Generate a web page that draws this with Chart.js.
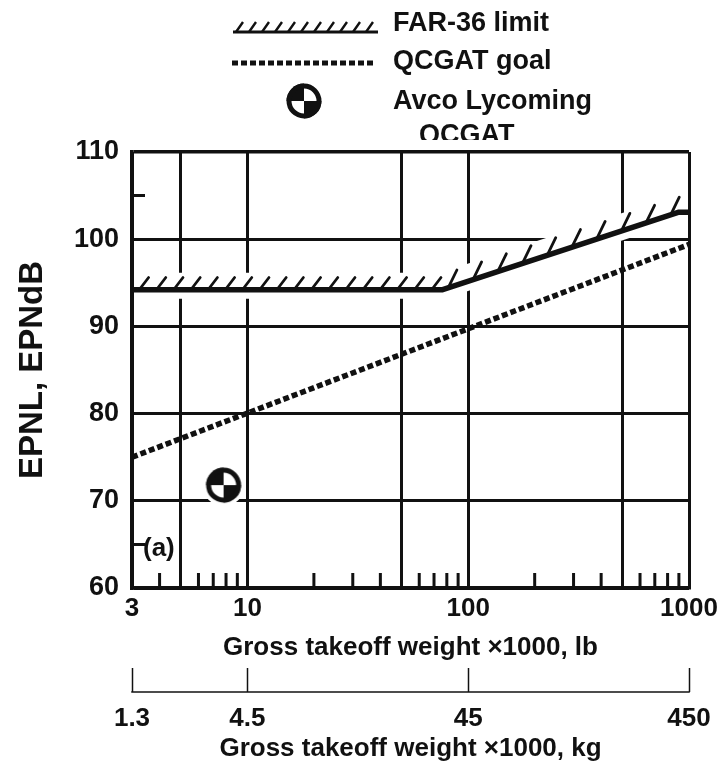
<!DOCTYPE html>
<html><head><meta charset="utf-8">
<script src="https://cdn.jsdelivr.net/npm/chart.js@4"></script>
<style>html,body{margin:0;padding:0;background:#fff}canvas{display:block}</style>
</head><body>
<canvas id="c" width="723" height="770"></canvas>
<script>
// ---- data ----
const farX = [3, 76, 900, 1000];
const farY = [94.2, 94.2, 103.1, 103.1];
const goalX = [3, 1000];
const goalY = [75.0, 99.4];
const avcoX = [7.8];
const avcoY = [71.8];
const seriesNames = ['FAR-36 limit', 'QCGAT goal', 'Avco Lycoming', 'QCGAT'];
const lbGridValues = [3, 5, 10, 50, 100, 500, 1000];
const lbTickLabels = [3, 10, 100, 1000];
const kgTickValues = [3, 10, 100, 1000];
const kgTickLabels = ['1.3', '4.5', '45', '450'];
const minorTicksX = [4, 6, 7, 8, 9, 20, 30, 40, 60, 70, 80, 90, 200, 300, 400, 600, 700, 800, 900];
const minorTicksY = [65, 105];
const yMin = 60, yMax = 110, yStep = 10;
const panelLabel = '(a)';
const xTitleLb = 'Gross takeoff weight \u00d71000, lb';
const xTitleKg = 'Gross takeoff weight \u00d71000, kg';
const yTitle = 'EPNL, EPNdB';

const FONT = '"Liberation Sans", Arial, Helvetica, sans-serif';
const INK = '#111';

function drawAvco(ctx, cx, cy, r) {
  ctx.save();
  ctx.beginPath(); ctx.arc(cx, cy, r, 0, Math.PI * 2); ctx.fillStyle = '#fff'; ctx.fill();
  ctx.fillStyle = INK;
  ctx.beginPath(); ctx.moveTo(cx, cy); ctx.arc(cx, cy, r, Math.PI, 1.5 * Math.PI); ctx.closePath(); ctx.fill();
  ctx.beginPath(); ctx.moveTo(cx, cy); ctx.arc(cx, cy, r, 0, 0.5 * Math.PI); ctx.closePath(); ctx.fill();
  ctx.beginPath(); ctx.arc(cx, cy, r - 2.5, 0, Math.PI * 2); ctx.lineWidth = 5; ctx.strokeStyle = INK; ctx.stroke();
  ctx.restore();
}
const avcoImg = document.createElement('canvas');
avcoImg.width = 40; avcoImg.height = 40;
drawAvco(avcoImg.getContext('2d'), 20, 20, 17.5);

function hatchPath(ctx, pts, opts) {
  let carry = opts.start;
  ctx.beginPath();
  for (let i = 0; i < pts.length - 1; i++) {
    const p0 = pts[i], p1 = pts[i + 1];
    const dx = p1.x - p0.x, dy = p1.y - p0.y;
    const L = Math.hypot(dx, dy);
    if (L < 0.5) continue;
    const tx = dx / L, ty = dy / L;
    const nx = ty, ny = -tx;
    const flat = Math.abs(ty) < 0.05;
    const ang = (flat ? opts.angle : opts.slopeAngle) * Math.PI / 180;
    const len = flat ? opts.len : opts.slopeLen;
    const hx = tx * Math.cos(ang) + nx * Math.sin(ang);
    const hy = ty * Math.cos(ang) + ny * Math.sin(ang);
    const sp = flat ? opts.flatSpacing : opts.slopeSpacing;
    let s = carry;
    while (s < L) {
      const px = p0.x + tx * s, py = p0.y + ty * s;
      ctx.moveTo(px + nx * opts.offset, py + ny * opts.offset);
      ctx.lineTo(px + hx * len, py + hy * len);
      s += sp;
    }
    carry = s - L;
  }
  ctx.lineWidth = opts.width; ctx.strokeStyle = INK; ctx.lineCap = 'round';
  ctx.stroke();
}

const decorPlugin = {
  id: 'decor',
  beforeDatasetsDraw(chart) {
    const ctx = chart.ctx, a = chart.chartArea;
    const xs = chart.scales.x, ys = chart.scales.y;
    // white halo behind the FAR-36 line and the engine point (as in the reference)
    ctx.save();
    ctx.beginPath(); ctx.rect(a.left + 3, a.top + 3, a.right - a.left - 6, a.bottom - a.top - 6); ctx.clip();
    const far = chart.getDatasetMeta(0).data;
    ctx.beginPath();
    far.forEach((p, i) => { i ? ctx.lineTo(p.x, p.y - 4) : ctx.moveTo(p.x, p.y - 4); });
    ctx.strokeStyle = '#fff'; ctx.lineWidth = 26; ctx.lineJoin = 'round'; ctx.stroke();
    const av = chart.getDatasetMeta(2).data;
    av.forEach(p => { ctx.beginPath(); ctx.arc(p.x, p.y, 21, 0, Math.PI * 2); ctx.fillStyle = '#fff'; ctx.fill(); });
    ctx.restore();
    // minor ticks
    ctx.save();
    ctx.strokeStyle = INK; ctx.lineWidth = 3;
    ctx.beginPath();
    minorTicksX.forEach(v => { const x = xs.getPixelForValue(v); ctx.moveTo(x, a.bottom); ctx.lineTo(x, a.bottom - 15); });
    minorTicksY.forEach(v => { const y = ys.getPixelForValue(v); ctx.moveTo(a.left, y); ctx.lineTo(a.left + 13, y); });
    ctx.stroke();
    ctx.restore();
  },
  afterDatasetsDraw(chart) {
    const ctx = chart.ctx, a = chart.chartArea;
    const far = chart.getDatasetMeta(0).data.map(p => ({x: p.x, y: p.y}));
    ctx.save();
    ctx.beginPath(); ctx.rect(a.left, a.top + 2, a.right - a.left - 3, a.bottom - a.top); ctx.clip();
    hatchPath(ctx, far, {angle: 55, len: 15, slopeAngle: 48, slopeLen: 19, offset: 1, width: 2.8,
                         flatSpacing: 17.2, slopeSpacing: 26, start: 8});
    ctx.restore();
  },
  afterDraw(chart) {
    const ctx = chart.ctx, a = chart.chartArea;
    const x2 = chart.scales.x2;
    ctx.save();
    // kg axis base line
    const ly = x2.top + 24;
    ctx.beginPath(); ctx.moveTo(x2.getPixelForValue(kgTickValues[0]) - 0.75, ly);
    ctx.lineTo(x2.getPixelForValue(kgTickValues[kgTickValues.length - 1]) + 0.75, ly);
    ctx.strokeStyle = INK; ctx.lineWidth = 1.5; ctx.stroke();
    // panel label
    ctx.fillStyle = INK; ctx.font = 'bold 26px ' + FONT; ctx.textBaseline = 'middle'; ctx.textAlign = 'left';
    ctx.fillText(panelLabel, a.left + 11, 549);
    // legend
    ctx.font = 'bold 27px ' + FONT;
    ctx.beginPath(); ctx.moveTo(233, 32); ctx.lineTo(378, 32); ctx.lineWidth = 3; ctx.strokeStyle = INK; ctx.stroke();
    const hx = []; for (let x = 236; x <= 372; x += 13) hx.push(x);
    ctx.beginPath();
    hx.forEach(x => { ctx.moveTo(x, 32); ctx.lineTo(x + 7, 22); });
    ctx.lineWidth = 2.4; ctx.stroke();
    ctx.fillText(seriesNames[0], 393, 24);
    ctx.beginPath(); ctx.setLineDash([6, 3]); ctx.moveTo(232, 63); ctx.lineTo(375, 63); ctx.lineWidth = 5; ctx.stroke(); ctx.setLineDash([]);
    ctx.fillText(seriesNames[1], 393, 62);
    drawAvco(ctx, 304, 101, 17.5);
    ctx.fillText(seriesNames[2], 393, 102);
    ctx.save();
    ctx.beginPath(); ctx.rect(380, 110, 200, 30); ctx.clip();
    ctx.fillText(seriesNames[3], 419, 136);
    ctx.restore();
    ctx.restore();
  }
};

new Chart(document.getElementById('c'), {
  type: 'line',
  data: {
    datasets: [
      { label: seriesNames[0], data: farX.map((x, i) => ({x, y: farY[i]})), borderColor: INK, borderWidth: 5.5,
        pointRadius: 0, tension: 0, fill: false, borderJoinStyle: 'round' },
      { label: seriesNames[1], data: goalX.map((x, i) => ({x, y: goalY[i]})), borderColor: INK, borderWidth: 5.5,
        borderDash: [6, 3], borderCapStyle: 'butt', pointRadius: 0, tension: 0, fill: false },
      { label: seriesNames[2] + ' ' + seriesNames[3], data: avcoX.map((x, i) => ({x, y: avcoY[i]})), showLine: false,
        pointStyle: avcoImg, pointRadius: 10 }
    ]
  },
  options: {
    responsive: false,
    animation: false,
    devicePixelRatio: 1,
    layout: { padding: { top: 152, right: 34, bottom: 0, left: 0 } },
    plugins: { legend: { display: false }, tooltip: { enabled: false } },
    scales: {
      x: {
        type: 'logarithmic', position: 'bottom', min: 3, max: 1000, weight: 0,
        afterBuildTicks: s => { s.ticks = lbGridValues.map(v => ({value: v})); },
        afterFit: s => { s.height = 80; },
        ticks: { callback: v => lbTickLabels.includes(v) ? String(v) : '', autoSkip: false, maxRotation: 0,
                 padding: 5, color: INK, font: { family: FONT, size: 26, weight: 'bold' } },
        grid: { color: INK, lineWidth: 3, drawTicks: false },
        border: { color: INK, width: 3.5 },
        title: { display: true, text: xTitleLb, color: INK, font: { family: FONT, size: 26, weight: 'bold' }, padding: { top: 0, bottom: 5 } }
      },
      x2: {
        type: 'logarithmic', position: 'bottom', min: 3, max: 1000, weight: 1,
        afterBuildTicks: s => { s.ticks = kgTickValues.map(v => ({value: v})); },
        afterFit: s => { s.height = 102; },
        ticks: { callback: (v, i) => kgTickLabels[i], autoSkip: false, maxRotation: 0,
                 padding: 11, color: INK, font: { family: FONT, size: 26, weight: 'bold' } },
        grid: { drawOnChartArea: false, drawTicks: true, tickLength: 24, tickWidth: 1.5, tickColor: INK, color: INK },
        border: { display: false },
        title: { display: true, text: xTitleKg, color: INK, font: { family: FONT, size: 26, weight: 'bold' }, padding: { top: 0, bottom: 6 } }
      },
      y: {
        type: 'linear', min: yMin, max: yMax,
        afterFit: s => { s.width = 132; },
        ticks: { stepSize: yStep, padding: 13, color: INK, font: { family: FONT, size: 27, weight: 'bold' } },
        grid: { color: INK, lineWidth: c => (c.tick && c.tick.value === yMax ? 3.5 : 3), drawTicks: false },
        border: { color: INK, width: 3.5 },
        title: { display: true, text: yTitle, color: INK, font: { family: FONT, size: 33, weight: 'bold' }, padding: { top: 13, bottom: 0 } }
      }
    }
  },
  plugins: [decorPlugin]
});
</script>
</body></html>
